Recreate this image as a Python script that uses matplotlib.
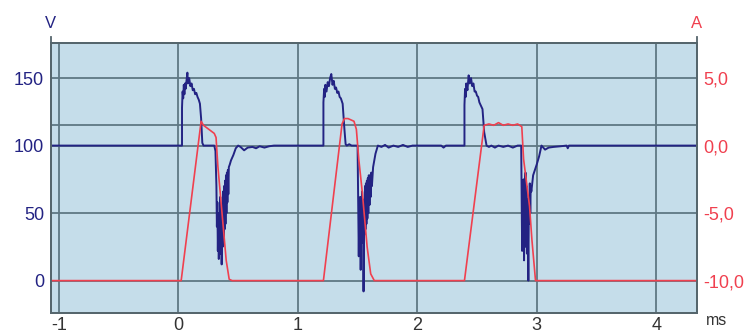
import matplotlib
matplotlib.use("Agg")
import matplotlib.pyplot as plt
from matplotlib.lines import Line2D
from matplotlib.ticker import FixedLocator, FuncFormatter

plt.rcParams['font.family'] = ['Liberation Sans', 'DejaVu Sans']
plt.rcParams['axes.unicode_minus'] = False

# voltage trace (ms, V)
volt_t = [
    -1.07, 0.03, 0.03, 0.035, 0.04, 0.045, 0.05, 0.055, 0.06, 0.07, 0.075, 0.08, 0.09,
    0.10, 0.11, 0.12, 0.13, 0.14, 0.15, 0.16, 0.17, 0.18, 0.19, 0.20, 0.21, 0.30,
    0.31, 0.318, 0.322, 0.326, 0.33, 0.334, 0.338, 0.342, 0.346, 0.35, 0.354, 0.358,
    0.362, 0.366, 0.37, 0.374, 0.378, 0.382, 0.386, 0.39, 0.394, 0.398, 0.402, 0.406,
    0.41, 0.414, 0.418, 0.422, 0.43, 0.44, 0.46, 0.48, 0.50, 0.52, 0.55,
    0.58, 0.62, 0.65, 0.68, 0.72, 0.76, 0.80,
    1.214, 1.214, 1.22, 1.225, 1.23, 1.24, 1.25, 1.26, 1.27, 1.28, 1.29, 1.30, 1.31,
    1.32, 1.33, 1.34, 1.35, 1.36, 1.375, 1.39, 1.40, 1.41, 1.43, 1.45, 1.50, 1.505,
    1.51, 1.514, 1.518, 1.522, 1.526, 1.53, 1.534, 1.538, 1.542, 1.546, 1.55, 1.554,
    1.558, 1.562, 1.566, 1.57, 1.574, 1.578, 1.582, 1.586, 1.59, 1.594, 1.60, 1.605,
    1.61, 1.615, 1.62, 1.63, 1.65, 1.67, 1.70, 1.73, 1.76,
    1.80, 1.84, 1.88, 1.92, 1.96, 2.00, 2.20, 2.22, 2.24,
    2.395, 2.395, 2.40, 2.405, 2.41, 2.42, 2.43, 2.44, 2.45, 2.46, 2.47, 2.48, 2.49,
    2.50, 2.51, 2.52, 2.53, 2.546, 2.56, 2.58, 2.60, 2.62, 2.65, 2.68, 2.72, 2.76,
    2.80, 2.84, 2.87, 2.874, 2.878, 2.882, 2.886, 2.89, 2.894, 2.898, 2.902, 2.906,
    2.91, 2.914, 2.918, 2.922, 2.926, 2.93, 2.934, 2.938, 2.942, 2.946, 2.95, 2.955,
    2.97, 2.985, 3.00, 3.02, 3.04,
    3.07, 3.10, 3.14, 3.20, 3.25, 3.26, 3.27, 4.34,
]
volt_v = [
    100, 100, 128, 140, 135, 145, 138, 146, 142, 150, 154, 146, 150,
    144, 146, 141, 142, 138, 139, 136, 134, 131, 120, 102, 100, 100,
    96, 70, 40, 58, 22, 50, 16, 45, 28, 62, 20, 55,
    12, 48, 25, 66, 30, 70, 38, 74, 42, 78, 50, 80,
    58, 82, 64, 84, 86, 89, 93, 98, 100, 99, 96.5,
    98.5, 99, 98, 99.5, 98.5, 99.5, 100,
    100, 132, 142, 136, 145, 140, 147, 144, 150, 153, 145, 148, 142,
    143, 139, 140, 136, 135, 131, 112, 101, 100, 101, 100, 100, 60,
    18, 50, 26, 62, 8, 50, 30, 66, 28, 60, -8, 42,
    34, 70, 38, 72, 42, 74, 46, 76, 50, 78, 56, 78,
    62, 80, 70, 84, 94, 100, 99, 100.5, 98.5,
    100, 99, 100.5, 99, 100, 100, 100, 98.5, 100,
    100, 130, 142, 136, 146, 141, 152, 146, 150, 144, 146, 140, 140,
    137, 136, 132, 130, 127, 110, 100, 99, 100, 98.5, 100, 99, 100,
    98.5, 100, 100, 60, 22, 70, 30, 75, 15, 62, 35, 80,
    25, 70, 20, 60, 40, 0, 55, 42, 72, 50, 70, 66,
    78, 82, 86, 92, 100,
    97, 98.5, 99, 99.5, 100, 98, 100, 100,
]

# coil current (ms, A)
amp_t = [
    -1.07, 0.023, 0.19, 0.21, 0.24, 0.30, 0.315, 0.33, 0.40, 0.425, 0.45,
    1.214, 1.37, 1.39, 1.42, 1.47, 1.49, 1.51, 1.54, 1.58, 1.61, 1.64, 1.66,
    2.395, 2.56, 2.60, 2.64, 2.68, 2.72, 2.76, 2.80, 2.84, 2.875, 2.89, 2.94,
    2.96, 2.99, 4.34,
]
amp_a = [
    -10, -10, 1.8, 1.5, 1.3, 0.9, 0.6, -1.5, -8.5, -9.9, -10,
    -10, 1.6, 2.0, 2.0, 1.8, 1.2, -1.0, -3.5, -7.5, -9.5, -10, -10,
    -10, 1.5, 1.6, 1.5, 1.7, 1.5, 1.6, 1.5, 1.6, 1.4, -1.0, -4.5,
    -7.0, -10, -10,
]

x_ticks = [-1, 0, 1, 2, 3, 4]
v_ticks = [0, 50, 100, 150]
a_ticks = [-10, -5, 0, 5]
marker_level = 115

navy = '#232383'
red = '#f0404f'
grid_col = '#5f7884'
spine_col = '#55656c'

fig = plt.figure(figsize=(7.5, 3.33), dpi=100)
ax = fig.add_axes([0.068, 0.06, 0.861, 0.811])
ax.set_facecolor('#c5ddea')

ax.set_xlim(-1.067, 4.34)
ax.set_ylim(-24, 176)
ax.set_xticks(x_ticks)
ax.set_yticks(v_ticks)
ax.grid(True, color=grid_col, linewidth=1.3)
ax.axhline(marker_level, color=grid_col, linewidth=1.3, zorder=0.5)
ax.set_axisbelow(True)
ax.plot(volt_t, volt_v, color=navy, linewidth=1.4)

ax2 = ax.twinx()
ax2.set_ylim(-12.4, 7.6)
ax2.yaxis.set_major_locator(FixedLocator(a_ticks))
ax2.yaxis.set_major_formatter(FuncFormatter(lambda v, p: f"{v:.1f}".replace('.', ',')))
ax2.plot(amp_t, amp_a, color=red, linewidth=1.2)

for a in (ax, ax2):
    for s in a.spines.values():
        s.set_color(spine_col)
        s.set_linewidth(1.3)
    a.tick_params(length=0, labelsize=13)
ax.tick_params(axis='y', labelcolor=navy, pad=5)
ax.tick_params(axis='x', labelcolor='#333333', pad=3)
ax2.tick_params(axis='y', labelcolor=red, pad=5)

# side spines stick out a little above the frame
for xf in (0.068, 0.929):
    fig.add_artist(Line2D([xf, xf], [0.871, 0.889], color=spine_col, linewidth=1.3))

fig.text(0.067, 0.928, 'V', color=navy, fontsize=12, ha='center', va='center')
fig.text(0.929, 0.930, 'A', color=red, fontsize=12, ha='center', va='center')
fig.text(0.955, 0.039, 'ms', color='#333333', fontsize=11.5, ha='center', va='center')

fig.savefig('out.png', dpi=100)
